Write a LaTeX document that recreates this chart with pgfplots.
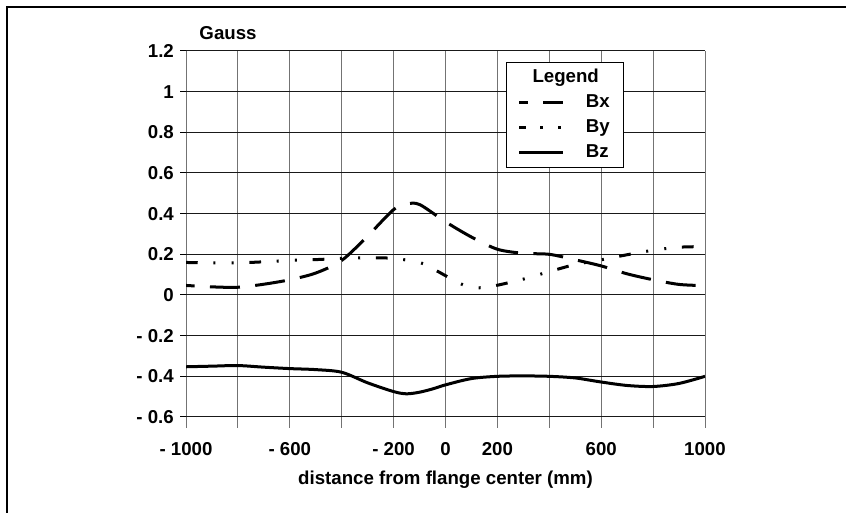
\documentclass[border=0pt]{standalone}
\usepackage{fontspec}
\setmainfont{Liberation Sans}
\usepackage{pgfplots}
\pgfplotsset{compat=1.18}
\pgfplotstableread{
x y
-1000 0.047
-900 0.040
-800 0.038
-700 0.053
-600 0.075
-500 0.108
-400 0.170
-300 0.290
-200 0.420
-150 0.447
-100 0.445
0 0.360
100 0.285
200 0.225
300 0.205
400 0.200
500 0.173
600 0.143
700 0.104
800 0.075
900 0.052
1000 0.046
}\bx
\pgfplotstableread{
x y
-1000 0.160
-800 0.158
-600 0.170
-500 0.174
-400 0.180
-300 0.183
-200 0.180
-100 0.160
-50 0.130
0 0.095
50 0.060
100 0.037
150 0.037
200 0.048
300 0.078
400 0.115
500 0.150
600 0.173
700 0.198
800 0.220
900 0.235
1000 0.238
}\by
\pgfplotstableread{
x y
-1000 -0.353
-900 -0.350
-800 -0.347
-700 -0.355
-600 -0.362
-500 -0.367
-400 -0.380
-300 -0.432
-200 -0.475
-150 -0.486
-100 -0.478
-50 -0.462
0 -0.442
100 -0.411
200 -0.400
300 -0.398
400 -0.400
500 -0.408
600 -0.428
700 -0.445
800 -0.450
900 -0.435
1000 -0.400
}\bz
\begin{document}
\fontsize{14}{16.5}\selectfont\bfseries
\begin{tikzpicture}
\useasboundingbox (0,0) rectangle (634.5pt,384.75pt);
\draw[line width=1.5pt] (5.5pt,-2pt) -- (5.5pt,379.25pt) -- (640pt,379.25pt);
\begin{axis}[
  at={(139.5pt,72pt)}, anchor=south west,
  scale only axis, width=389.25pt, height=274.5pt,
  xmin=-1000, xmax=1000, ymin=-0.6, ymax=1.2,
  xtick={-1000,-600,-200,0,200,600,1000},
  xticklabels={- 1000,- 600,- 200,0,200,600,1000},
  minor xtick={-800,-400,400,800},
  ytick={-0.6,-0.4,-0.2,0,0.2,0.4,0.6,0.8,1,1.2},
  yticklabels={- 0.6,- 0.4,- 0.2,0,0.2,0.4,0.6,0.8,1,1.2},
  xmajorgrids, xminorgrids, ymajorgrids,
  every axis x grid/.append style={draw=black!55, line width=0.75pt},
  every axis y grid/.append style={draw=black!90, line width=0.75pt},
  axis line style={draw=none},
  tick align=outside, xtick pos=bottom, ytick pos=left,
  xtick style={draw=black!55, line width=0.75pt, /pgfplots/major tick length=8pt, /pgfplots/minor tick length=8pt},
  ytick style={draw=black, line width=0.75pt, /pgfplots/major tick length=4.5pt},
  every tick label/.append style={font=\fontsize{14}{16.5}\selectfont\bfseries},
  xticklabel style={yshift=-10pt},
  xlabel={distance from flange center (mm)},
  xlabel style={at={(axis description cs:0.5,0)}, anchor=base, yshift=-51pt, font=\fontsize{14}{16.5}\selectfont\bfseries},
  ylabel={Gauss},
  every axis y label/.style={at={(axis description cs:0,1)}, anchor=base west, xshift=5.25pt, yshift=8.25pt, font=\fontsize{14}{16.5}\selectfont\bfseries},
  legend image code/.code={\draw[#1] (0pt,0pt) -- (33pt,0pt);},
  legend cell align=left,
  legend style={at={(rel axis cs:0.6166,0.97)}, anchor=north west, draw=black, line width=0.75pt, fill=white,
    inner xsep=8.25pt, inner ysep=3pt, row sep=3pt, column sep=14pt, font=\fontsize{14}{16.5}\selectfont\bfseries},
]
\addlegendimage{empty legend}
\addlegendentry{\hspace*{-40pt}Legend}
\addplot[black, line width=2.25pt, smooth, tension=0.5, dash pattern=on 22.5pt off 11.5pt, dash phase=16pt] table {\bx};
\addlegendentry{Bx}
\addplot[black, line width=2.25pt, smooth, tension=0.5, dash pattern=on 8.8pt off 11.75pt on 1.5pt off 12.2pt on 1.5pt off 11.75pt,
  legend image code/.code={\draw[black, line width=2.25pt, dash pattern=on 5pt off 11pt on 2pt off 11.5pt on 2pt off 20pt] (0pt,0pt) -- (33pt,0pt);}] table {\by};
\addlegendentry{By}
\addplot[black, line width=2.25pt, smooth, tension=0.5] table {\bz};
\addlegendentry{Bz}
\end{axis}
\end{tikzpicture}
\end{document}
